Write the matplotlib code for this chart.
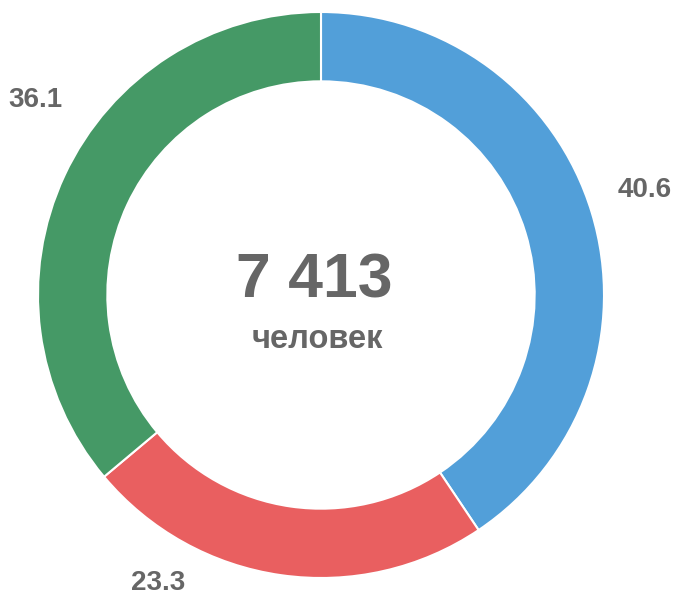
import matplotlib.pyplot as plt

shares = [40.6, 23.3, 36.1]
labels = ["40.6", "23.3", "36.1"]
colors = ["#529fd9", "#e95f60", "#459966"]
total_text = "7 413"
unit_text = "человек"

plt.rcParams["font.family"] = ["Liberation Sans", "DejaVu Sans"]

W, H = 679, 597
fig = plt.figure(figsize=(W / 100, H / 100), dpi=100)
ax = fig.add_axes([0, 0, 1, 1])

cx, cy, r = 321, 295, 283
# y axis is inverted, so counterclock=True draws clockwise on screen
ax.pie(shares, colors=colors, startangle=-90, counterclock=True,
       center=(cx, cy), radius=r, frame=True,
       wedgeprops=dict(width=r * 0.245, edgecolor="white", linewidth=1.5))
ax.set_xlim(0, W)
ax.set_ylim(H, 0)
ax.set_aspect("equal")
ax.axis("off")

# label positions in pixels
label_pos = [(645, 190), (158, 583), (35, 100)]
for txt, (x, y) in zip(labels, label_pos):
    ax.text(x, y, txt, ha="center", va="center", fontsize=20,
            fontweight="bold", color="#666666")

ax.text(314, 297, total_text, ha="center", va="baseline", fontsize=45,
        fontweight="bold", color="#666666")
ax.text(317, 348, unit_text, ha="center", va="baseline", fontsize=23.5,
        fontweight="bold", color="#666666")

fig.savefig("out.png", dpi=100)
